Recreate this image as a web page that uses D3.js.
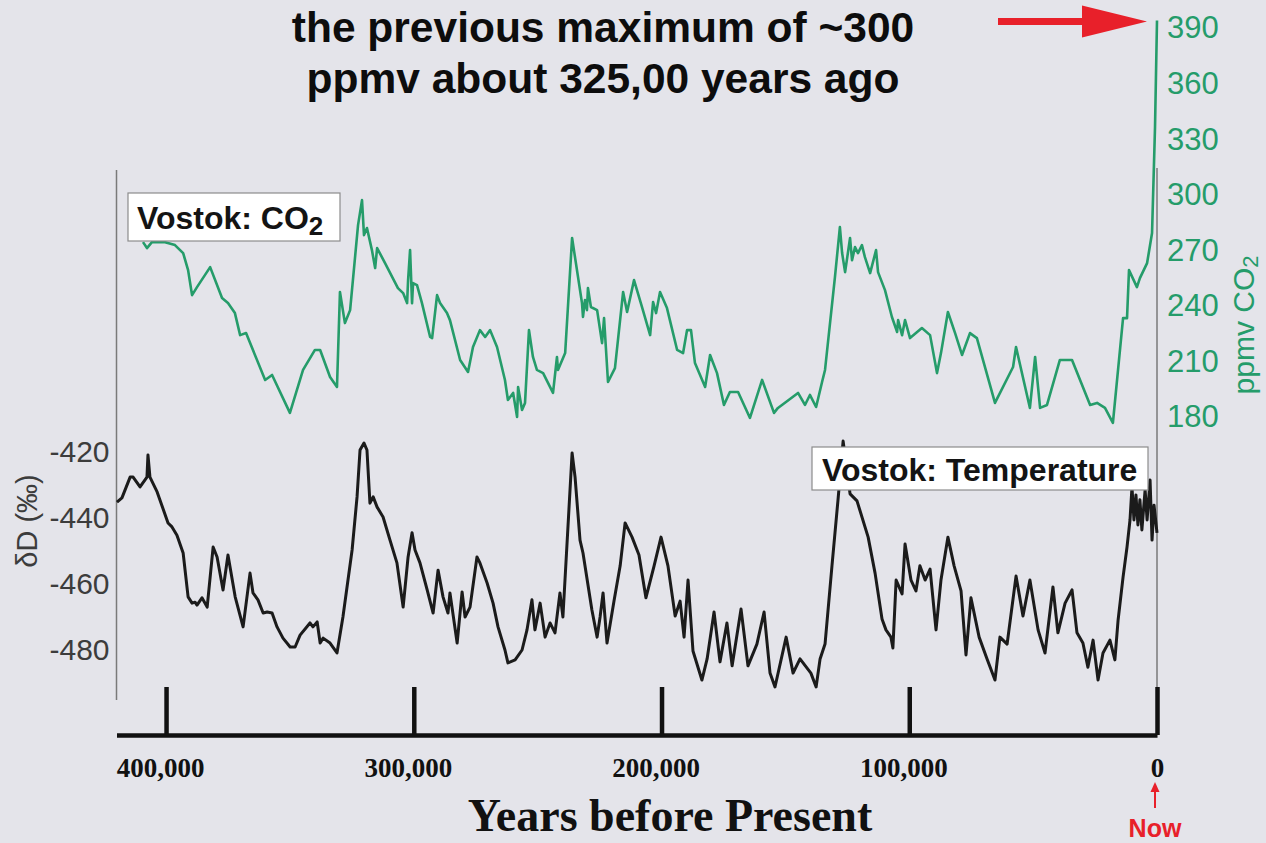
<!DOCTYPE html>
<html>
<head>
<meta charset="utf-8">
<script src="https://cdn.jsdelivr.net/npm/d3@7"></script>
<style>
  html, body { margin: 0; padding: 0; background: #e4e4ea; }
  svg { display: block; }
</style>
</head>
<body>
<svg id="chart" width="1266" height="843"></svg>
<script>
// Vostok ice core: CO2 (ppmv) against age in thousands of years before present
const co2Age = [409.3,407.7,405.7,400.4,396.4,393.1,391.1,389.5,387.5,382.2,
  377.4,375.0,372.2,370.1,367.7,360.0,357.2,350.0,344.7,339.9,
  337.8,333.8,331.0,329.8,327.8,325.7,322.5,320.9,320.1,318.9,
  316.9,315.6,314.8,311.6,306.4,304.3,302.7,302.3,301.5,300.7,
  300.3,298.7,296.7,293.4,292.6,290.6,289.4,286.6,285.4,281.3,
  278.1,276.1,273.3,271.2,269.2,266.4,263.2,262.0,259.9,258.3,
  257.9,256.3,255.1,253.5,251.9,250.3,247.8,243.8,242.2,241.8,
  238.9,236.1,232.1,231.7,230.9,230.1,229.7,228.5,226.0,224.0,
  223.2,221.6,218.8,215.5,213.9,211.1,207.9,204.6,203.4,202.2,
  200.6,197.8,193.7,191.3,189.7,188.1,186.5,182.4,180.4,177.6,
  174.8,172.4,169.1,164.3,159.4,154.6,153.0,144.9,142.1,140.1,
  137.6,135.2,134.0,130.0,128.0,127.1,125.9,123.9,123.1,121.9,
  120.7,119.1,117.9,115.8,113.4,112.6,109.8,107.0,104.9,104.5,
  102.9,101.7,99.7,94.9,91.6,88.8,87.2,84.4,81.5,78.7,
  75.5,72.7,65.4,58.1,56.9,51.3,49.2,47.2,44.4,39.2,
  34.3,27.0,24.2,21.0,17.8,13.7,12.1,11.3,8.1,6.9,
  4.0,2.0,0.8,0];
const co2Ppmv = [274.4,271.2,274.4,274.4,272.8,268.5,259.3,245.8,250.1,260.9,
  244.2,241.5,236.1,224.2,225.3,200.0,202.7,182.2,205.4,216.2,
  216.2,201.6,196.2,247.5,230.7,237.7,283.6,297.1,278.2,282.0,
  270.1,260.4,271.2,263.1,249.6,246.9,241.5,253.9,270.1,241.5,
  252.3,251.2,241.5,223.2,222.6,245.8,241.5,236.1,232.3,210.8,
  204.3,217.8,226.9,223.2,226.9,217.8,200.0,189.2,193.0,180.0,
  196.2,183.8,187.6,226.9,212.4,205.4,203.7,193.0,212.4,205.4,
  214.5,276.6,241.5,234.0,243.1,237.7,249.6,239.4,237.7,219.9,
  233.4,198.9,206.4,247.5,236.7,253.9,239.4,224.2,242.1,236.1,
  247.5,238.8,216.2,214.5,226.9,226.9,209.1,196.2,213.5,203.7,
  186.5,193.5,193.5,179.5,200.0,182.2,184.9,193.0,186.5,191.9,
  185.4,198.9,205.4,255.5,282.5,268.5,258.2,276.6,264.7,271.7,
  268.5,272.8,266.3,257.7,270.1,258.2,248.5,234.0,225.9,232.3,
  224.2,232.3,222.6,228.0,224.2,203.7,214.5,236.7,225.3,213.5,
  225.3,222.6,187.6,207.0,217.8,184.9,212.4,184.9,186.5,210.8,
  210.8,186.5,187.6,184.9,176.8,233.4,233.4,259.3,250.1,255.0,
  263.1,279.3,336.5,394];

// Vostok ice core: deuterium (δD, per mil) against age in thousands of years
const tempAge = [419.8,417.8,414.5,413.3,410.5,407.7,407.3,406.5,403.6,399.2,
  397.6,395.6,393.1,391.1,389.5,388.3,387.5,385.5,383.4,381.0,
  379.4,377.0,375.0,372.1,368.9,366.1,364.9,362.9,360.8,359.2,
  357.2,355.2,352.8,349.9,347.9,345.9,341.9,340.7,339.0,337.8,
  336.6,333.8,331.0,328.6,324.9,322.9,321.7,320.1,318.9,317.7,
  316.4,314.8,312.4,309.6,306.8,304.3,302.3,300.7,299.5,297.5,
  294.6,292.2,290.2,288.2,286.2,285.4,282.5,280.5,279.3,277.3,
  274.5,273.3,270.4,268.0,266.0,263.2,262.0,259.1,256.3,254.3,
  252.3,251.1,249.0,247.0,245.0,243.0,241.0,239.8,236.1,234.9,
  232.9,231.7,228.1,226.0,224.8,223.6,222.0,219.2,216.7,214.7,
  211.9,209.1,206.3,203.0,200.2,197.4,194.5,192.5,190.9,189.3,
  187.3,183.7,181.6,178.8,176.4,173.6,171.5,167.9,165.1,161.5,
  158.6,156.2,154.2,149.7,146.9,144.1,139.7,137.6,136.0,134.0,
  131.2,128.8,126.7,123.9,121.1,116.6,113.8,111.0,109.4,107.4,
  106.6,105.3,102.9,101.7,99.3,97.3,95.7,93.6,91.6,89.2,
  87.2,84.4,81.9,79.1,77.1,75.1,71.8,68.6,65.4,63.4,
  60.5,56.9,54.1,51.3,48.0,45.2,42.0,40.0,37.1,34.3,
  32.3,29.9,27.9,25.8,23.8,21.8,19.0,17.0,15.7,13.7,
  12.1,10.9,10.1,9.3,8.5,7.7,6.9,6.1,4.8,4.0,
  2.8,2.0,1.2,0];
const tempDeltaD = [-435.2,-433.9,-427.6,-427.6,-430.6,-427.6,-420.9,-427.6,-432.1,-441.5,
  -442.7,-445.2,-450.6,-463.9,-465.8,-465.5,-466.4,-464.2,-467.0,-448.8,
  -451.8,-461.8,-451.2,-463.9,-473.0,-456.7,-462.7,-464.8,-468.8,-468.5,
  -468.8,-473.0,-476.4,-479.1,-479.1,-475.5,-471.8,-473.0,-471.5,-477.9,
  -476.4,-477.9,-480.9,-470.0,-449.7,-433.6,-419.4,-417.3,-419.4,-435.5,
  -433.6,-436.7,-439.7,-446.7,-453.6,-467.0,-451.8,-444.5,-449.7,-453.6,
  -461.8,-468.8,-455.8,-463.9,-468.8,-462.7,-477.9,-462.4,-470.0,-467.0,
  -451.8,-453.6,-459.7,-465.8,-473.0,-480.0,-483.9,-483.0,-480.0,-473.9,
  -464.8,-473.9,-465.8,-476.1,-471.8,-474.8,-462.7,-470.0,-420.3,-427.6,
  -446.7,-450.6,-467.9,-476.1,-470.0,-462.7,-477.9,-465.2,-454.5,-441.5,
  -445.8,-451.2,-464.2,-454.5,-445.8,-454.5,-469.7,-465.2,-476.1,-458.8,
  -480.3,-489.1,-482.7,-468.5,-483.6,-471.8,-484.8,-467.6,-484.8,-478.2,
  -468.5,-487.0,-491.2,-476.1,-487.0,-482.7,-487.0,-491.2,-482.7,-478.2,
  -454.5,-434.8,-416.7,-432.7,-434.8,-445.8,-456.7,-470.6,-473.9,-476.1,
  -479.4,-458.8,-463.0,-447.9,-458.8,-462.1,-454.5,-458.8,-455.5,-473.9,
  -458.8,-445.8,-454.5,-462.1,-481.5,-464.2,-476.1,-482.7,-489.1,-476.1,
  -478.2,-457.6,-469.7,-458.8,-473.9,-480.9,-460.9,-474.8,-465.8,-461.8,
  -474.8,-477.9,-485.2,-477.0,-489.1,-480.9,-477.0,-483.0,-470.9,-457.9,
  -448.8,-440.6,-430.6,-440.6,-433.0,-442.1,-434.5,-443.6,-431.5,-440.6,
  -428.5,-446.7,-436.1,-444.5];

const ageTicks = [400, 300, 200, 100, 0];
const ppmvTicks = [180, 210, 240, 270, 300, 330, 360, 390];
const deltaDTicks = [-420, -440, -460, -480];

const titleLines = ["the previous maximum of ~300", "ppmv about 325,00 years ago"];

const GREEN = "#259c6a";
const RED = "#e8202a";
const SANS = "'Liberation Sans', Arial, Helvetica, sans-serif";
const SERIF = "'Liberation Serif', 'Times New Roman', serif";

const svg = d3.select("#chart");

// scales
const x = d3.scaleLinear().domain([420, 0]).range([116.5, 1157]);
const yCO2 = d3.scaleLinear().domain([180, 390]).range([417, 28]);
const yD = d3.scaleLinear().domain([-480, -420]).range([650, 452]);

// frame lines on both sides
svg.append("line").attr("x1", x(420)).attr("x2", x(420)).attr("y1", 170).attr("y2", 700)
  .attr("stroke", "#7a7a7a").attr("stroke-width", 1.5);
svg.append("line").attr("x1", x(0)).attr("x2", x(0)).attr("y1", 168).attr("y2", 700)
  .attr("stroke", "#7a7a7a").attr("stroke-width", 1.5);

// series lines
const co2Data = d3.zip(co2Age, co2Ppmv);
const tempData = d3.zip(tempAge, tempDeltaD);

svg.append("path")
  .datum(tempData)
  .attr("fill", "none")
  .attr("stroke", "#1b1b1b")
  .attr("stroke-width", 3)
  .attr("stroke-linejoin", "round")
  .attr("d", d3.line().x(d => x(d[0])).y(d => yD(d[1])));

svg.append("path")
  .datum(co2Data)
  .attr("fill", "none")
  .attr("stroke", GREEN)
  .attr("stroke-width", 2.6)
  .attr("stroke-linejoin", "round")
  .attr("d", d3.line().x(d => x(d[0])).y(d => yCO2(d[1])));

// bottom age axis, ticks pointing upward
const xAxis = svg.append("g")
  .attr("transform", "translate(0,735)")
  .call(d3.axisBottom(x).tickValues(ageTicks)
    .tickSizeInner(-48).tickSizeOuter(0).tickPadding(23)
    .tickFormat(d => d3.format(",")(d * 1000)));
xAxis.select(".domain").attr("stroke", "#111").attr("stroke-width", 4.5);
xAxis.selectAll(".tick line").attr("stroke", "#111").attr("stroke-width", 4.5);
xAxis.selectAll(".tick text")
  .attr("fill", "#111")
  .attr("font-family", SERIF)
  .attr("font-weight", "bold")
  .attr("font-size", 27)
  .attr("dx", d => d === 0 ? 0 : -6);

// right CO2 axis
const yRight = svg.append("g")
  .attr("transform", `translate(${x(0)},0)`)
  .call(d3.axisRight(yCO2).tickValues(ppmvTicks).tickSize(0).tickPadding(10));
yRight.select(".domain").remove();
yRight.selectAll(".tick text")
  .attr("fill", GREEN)
  .attr("font-family", SANS)
  .attr("font-size", 31);

// left δD axis
const yLeft = svg.append("g")
  .attr("transform", `translate(${x(420)},0)`)
  .call(d3.axisLeft(yD).tickValues(deltaDTicks).tickSize(0).tickPadding(7)
    .tickFormat(d => String(d)));
yLeft.select(".domain").remove();
yLeft.selectAll(".tick text")
  .attr("fill", "#3c3c3c")
  .attr("font-family", SANS)
  .attr("font-size", 30);

// axis titles
const ppmvTitle = svg.append("text")
  .attr("transform", "translate(1254,325) rotate(-90)")
  .attr("text-anchor", "middle")
  .attr("fill", GREEN)
  .attr("font-family", SANS)
  .attr("font-size", 30);
ppmvTitle.append("tspan").text("ppmv CO");
ppmvTitle.append("tspan").attr("font-size", 22).attr("dy", 4).text("2");

svg.append("text")
  .attr("transform", "translate(37,521) rotate(-90)")
  .attr("text-anchor", "middle")
  .attr("fill", "#3c3c3c")
  .attr("font-family", SANS)
  .attr("font-size", 29)
  .text("δD (‰)");

svg.append("text")
  .attr("x", 670).attr("y", 831)
  .attr("text-anchor", "middle")
  .attr("fill", "#111")
  .attr("font-family", SERIF)
  .attr("font-weight", "bold")
  .attr("font-size", 46)
  .text("Years before Present");

// series labels in white boxes
svg.append("rect").attr("x", 128).attr("y", 193).attr("width", 212).attr("height", 48)
  .attr("fill", "#fff").attr("stroke", "#8c8c8c").attr("stroke-width", 1.2);
const co2Label = svg.append("text")
  .attr("x", 137).attr("y", 229)
  .attr("fill", "#141414")
  .attr("font-family", SANS)
  .attr("font-weight", "bold")
  .attr("font-size", 32);
co2Label.append("tspan").text("Vostok: CO");
co2Label.append("tspan").attr("font-size", 26).attr("dy", 6).text("2");

svg.append("rect").attr("x", 812).attr("y", 447).attr("width", 336).attr("height", 43)
  .attr("fill", "#fff").attr("stroke", "#8c8c8c").attr("stroke-width", 1.2);
svg.append("text")
  .attr("x", 822).attr("y", 481)
  .attr("fill", "#141414")
  .attr("font-family", SANS)
  .attr("font-weight", "bold")
  .attr("font-size", 32)
  .text("Vostok: Temperature");

// headline
svg.append("g").selectAll("text")
  .data(titleLines)
  .join("text")
  .attr("x", 603)
  .attr("y", (d, i) => 42 + i * 51)
  .attr("text-anchor", "middle")
  .attr("fill", "#0d0d0d")
  .attr("font-family", SANS)
  .attr("font-weight", "bold")
  .attr("font-size", 42.5)
  .text(d => d);

// red arrow pointing at the top of the CO2 scale
const arrowY = 21.5;
svg.append("rect").attr("x", 998).attr("y", arrowY - 3.5).attr("width", 90).attr("height", 7)
  .attr("fill", RED);
svg.append("path")
  .attr("d", `M1082,${arrowY - 16} L1147,${arrowY} L1082,${arrowY + 16} Z`)
  .attr("fill", RED);

// "Now" marker under the zero tick
svg.append("line").attr("x1", x(0) - 2).attr("x2", x(0) - 2).attr("y1", 808).attr("y2", 790)
  .attr("stroke", RED).attr("stroke-width", 2);
svg.append("path")
  .attr("d", `M${x(0) - 2},782 L${x(0) + 2.5},792 L${x(0) - 6.5},792 Z`)
  .attr("fill", RED);
svg.append("text")
  .attr("x", x(0) - 2).attr("y", 837)
  .attr("text-anchor", "middle")
  .attr("fill", RED)
  .attr("font-family", SANS)
  .attr("font-weight", "bold")
  .attr("font-size", 25)
  .text("Now");
</script>
</body>
</html>
